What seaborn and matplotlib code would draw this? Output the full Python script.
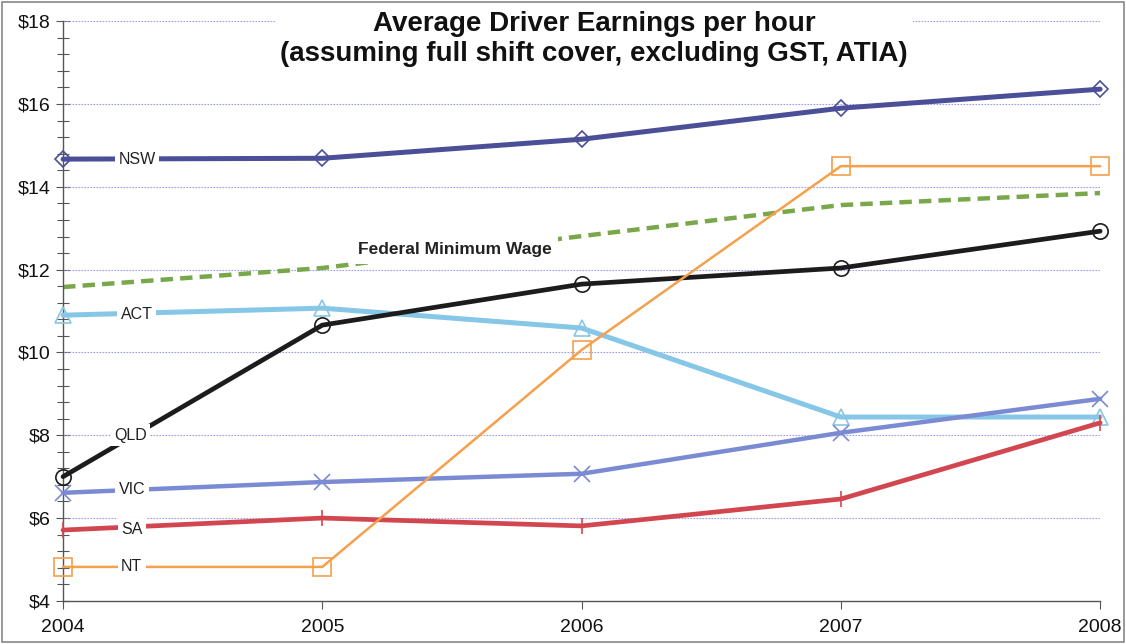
import matplotlib
matplotlib.use("Agg")
import matplotlib.pyplot as plt
import seaborn as sns
import pandas as pd
from matplotlib.patches import Rectangle
from matplotlib.ticker import MultipleLocator

years = [2004, 2005, 2006, 2007, 2008]
nsw = [14.67, 14.69, 15.15, 15.90, 16.36]
fed_min_wage = [11.58, 12.04, 12.81, 13.56, 13.85]
act = [10.90, 11.07, 10.59, 8.44, 8.44]
qld = [7.00, 10.66, 11.65, 12.04, 12.93]
vic = [6.61, 6.87, 7.07, 8.06, 8.88]
sa = [5.71, 6.00, 5.81, 6.46, 8.30]
nt = [4.82, 4.82, 10.06, 14.50, 14.50]

y_ticks = [4, 6, 8, 10, 12, 14, 16, 18]
y_tick_labels = ["$4", "$6", "$8", "$10", "$12", "$14", "$16", "$18"]

sns.set_theme(style="white")
plt.rcParams['font.family'] = ['Liberation Sans', 'DejaVu Sans']

fig = plt.figure(figsize=(11.26, 6.44), dpi=100)
ax = fig.add_axes([0.056, 0.067, 0.921, 0.900])

series = [
    ("NSW", nsw, "#4a4f98", "D", 3.6, 8),
    ("ACT", act, "#86c6e6", "^", 3.6, 11),
    ("QLD", qld, "#1c1c1c", "o", 3.4, 11),
    ("VIC", vic, "#7a8bd4", "x", 3.2, 11),
    ("SA", sa, "#d2474f", "|", 3.4, 12),
    ("NT", nt, "#f5a04c", "s", 1.8, 13),
]

for name, vals, color, marker, lw, ms in series:
    df = pd.DataFrame({"year": years, "value": vals})
    filled = marker in ("x", "|")
    sns.lineplot(data=df, x="year", y="value", ax=ax, color=color, linewidth=lw,
                 marker=marker, markersize=ms,
                 markerfacecolor="none" if not filled else color,
                 markeredgecolor=color, markeredgewidth=1.2, zorder=3, clip_on=False)

# Federal minimum wage dashed line
dfw = pd.DataFrame({"year": years, "value": fed_min_wage})
sns.lineplot(data=dfw, x="year", y="value", ax=ax, color="#78a84a", linewidth=3.2,
             linestyle=(0, (2.8, 1.6)), zorder=2)

# Inline labels
label_pos = {"NSW": (2004.285, 14.67), "ACT": (2004.285, 10.91), "QLD": (2004.26, 8.0),
             "VIC": (2004.265, 6.68), "SA": (2004.265, 5.73), "NT": (2004.265, 4.82)}
for name, (lx, ly) in label_pos.items():
    ax.text(lx, ly, name, ha="center", va="center", fontsize=11.5, color="#222222",
            bbox=dict(facecolor="white", edgecolor="none", pad=2.5), zorder=4)
ax.text(2005.51, 12.48, "Federal Minimum Wage", ha="center", va="center", fontsize=12.5,
        fontweight="bold", color="#222222",
        family=['Liberation Sans Narrow', 'Liberation Sans'],
        bbox=dict(facecolor="white", edgecolor="none", pad=5), zorder=4)

ax.set_xlim(2004, 2008)
ax.set_ylim(4, 18)
ax.set_xticks(years)
ax.set_xticklabels([str(y) for y in years], fontsize=14, color="#111111")
ax.set_yticks(y_ticks)
ax.set_yticklabels(y_tick_labels, fontsize=14, color="#111111")
ax.yaxis.set_minor_locator(MultipleLocator(0.4))
ax.tick_params(axis="y", which="major", direction="inout", length=10, width=0.8, color="#555555", left=True, pad=4)
ax.tick_params(axis="y", which="minor", direction="inout", length=8, width=0.8, color="#555555", left=True)
ax.tick_params(axis="x", which="major", direction="out", length=6, width=0.8, color="#555555", bottom=True, pad=7)
ax.set_xlabel("")
ax.set_ylabel("")

for s in ["top", "right"]:
    ax.spines[s].set_visible(False)
for s in ["left", "bottom"]:
    ax.spines[s].set_color("#555555")
    ax.spines[s].set_linewidth(1.0)

for yv in y_ticks[1:]:
    ax.axhline(yv, color="#9c9ee6", linestyle=(0, (1.5, 1.2)), linewidth=0.8, zorder=1)

ax.set_title("Average Driver Earnings per hour\n(assuming full shift cover, excluding GST, ATIA)",
             fontsize=20, fontweight="bold", color="#111111", x=0.512, y=0.917, linespacing=1.22,
             family=['Liberation Sans Narrow', 'Liberation Sans'],
             bbox=dict(facecolor="white", edgecolor="none", pad=4), zorder=5)

fig.patches.append(Rectangle((0.002, 0.003), 0.996, 0.994, transform=fig.transFigure,
                             fill=False, edgecolor="#888888", linewidth=1.2))

fig.savefig("out.png", dpi=100)
